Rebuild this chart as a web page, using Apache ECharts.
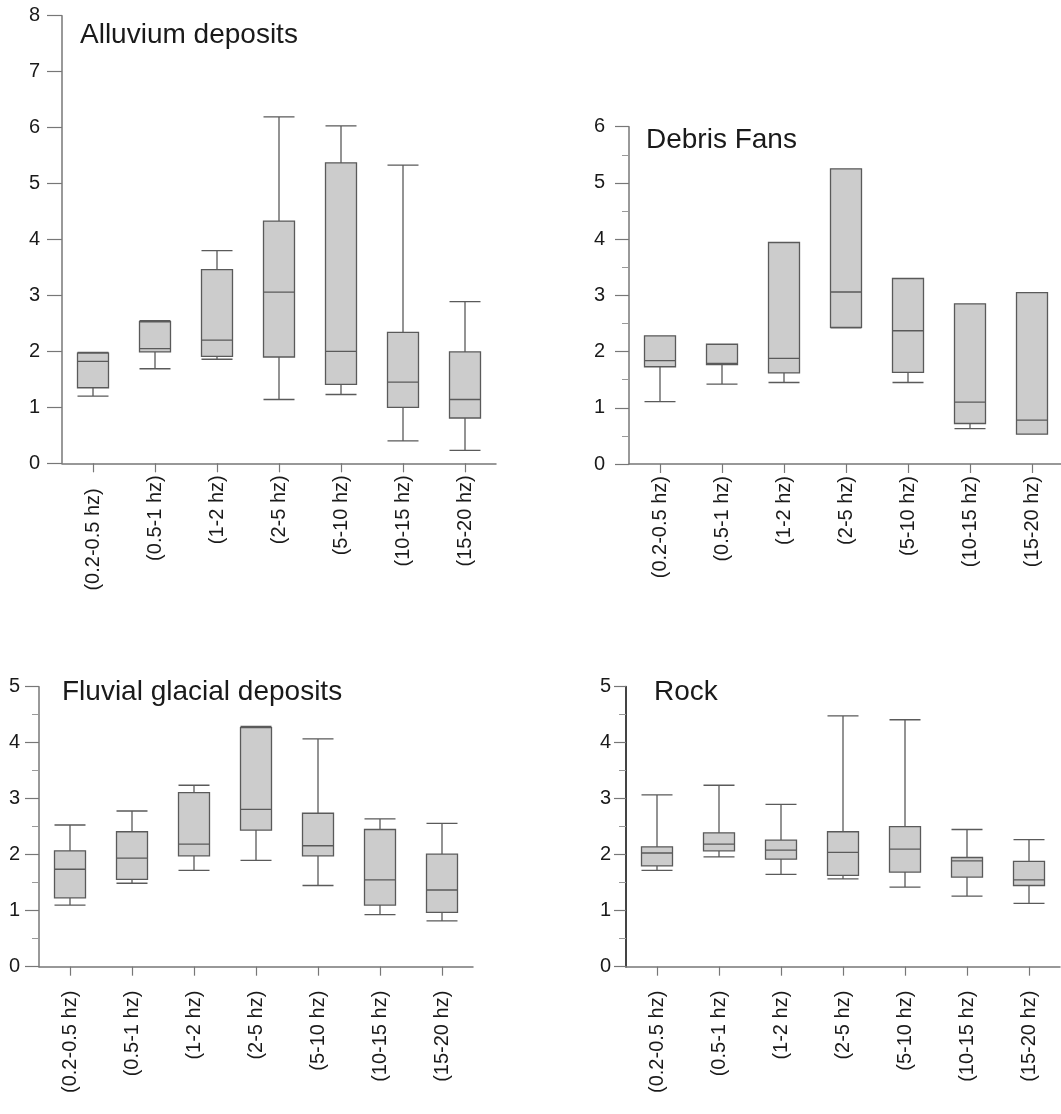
<!DOCTYPE html>
<html>
<head>
<meta charset="utf-8">
<title>Boxplots</title>
<script src="https://cdn.jsdelivr.net/npm/echarts@6/dist/echarts.min.js"></script>
<style>
  html, body { margin: 0; padding: 0; background: #fff; }
  #main { width: 1061px; height: 1114px; }
</style>
</head>
<body>
<div id="main"></div>
<script>
// categories (frequency bands)
var categories = ["(0.2-0.5 hz)", "(0.5-1 hz)", "(1-2 hz)", "(2-5 hz)", "(5-10 hz)", "(10-15 hz)", "(15-20 hz)"];

// [min, Q1, median, Q3, max]
var alluvium = [
  [1.20, 1.35, 1.82, 1.97, 1.98],
  [1.69, 1.99, 2.05, 2.53, 2.55],
  [1.86, 1.91, 2.20, 3.46, 3.80],
  [1.14, 1.90, 3.06, 4.33, 6.19],
  [1.23, 1.41, 2.00, 5.37, 6.03],
  [0.40, 1.00, 1.45, 2.34, 5.33],
  [0.23, 0.81, 1.14, 1.99, 2.89]
];
var debris = [
  [1.11, 1.73, 1.84, 2.28, 2.28],
  [1.42, 1.77, 1.79, 2.13, 2.13],
  [1.45, 1.62, 1.88, 3.94, 3.94],
  [2.42, 2.43, 3.06, 5.25, 5.25],
  [1.45, 1.63, 2.37, 3.30, 3.30],
  [0.63, 0.72, 1.10, 2.85, 2.85],
  [0.53, 0.53, 0.78, 3.05, 3.05]
];
var fluvial = [
  [1.10, 1.23, 1.74, 2.07, 2.53],
  [1.49, 1.56, 1.94, 2.41, 2.78],
  [1.72, 1.98, 2.19, 3.11, 3.24],
  [1.90, 2.44, 2.81, 4.27, 4.29],
  [1.45, 1.98, 2.16, 2.74, 4.07],
  [0.93, 1.10, 1.55, 2.45, 2.64],
  [0.82, 0.97, 1.37, 2.01, 2.56]
];
var rock = [
  [1.72, 1.80, 2.03, 2.14, 3.07],
  [1.96, 2.07, 2.19, 2.39, 3.24],
  [1.65, 1.92, 2.08, 2.26, 2.90],
  [1.57, 1.63, 2.04, 2.41, 4.48],
  [1.42, 1.69, 2.10, 2.50, 4.41],
  [1.26, 1.60, 1.89, 1.95, 2.45],
  [1.13, 1.45, 1.55, 1.88, 2.27]
];

var titles = ["Alluvium deposits", "Debris Fans", "Fluvial glacial deposits", "Rock"];
var yMax = [8, 6, 5, 5];

var font = "Liberation Sans";
var chart = echarts.init(document.getElementById("main"));

// panel layout: grid box, title position, axis details
var panels = [
  { grid: { left: 62, top: 15.7, width: 434, height: 447.6 }, title: [80, 21], tick: 15, minor: false, labMargin: 22, xMargin: 12, data: alluvium, axisColor: "#777", axisWidth: 1.5 },
  { grid: { left: 629, top: 126.7, width: 434, height: 337.3 }, title: [646, 126], tick: 14, minor: true, labMargin: 24, xMargin: 12, data: debris, axisColor: "#777", axisWidth: 1.5 },
  { grid: { left: 39, top: 686.7, width: 434, height: 280 }, title: [62, 678], tick: 14, minor: true, labMargin: 19, xMargin: 24, data: fluvial, axisColor: "#777", axisWidth: 1.5 },
  { grid: { left: 626, top: 686.7, width: 434, height: 280 }, title: [654, 678], tick: 12, minor: true, labMargin: 15, xMargin: 24, data: rock, axisColor: "#444", axisWidth: 2 }
];

var grid = [], xAxis = [], yAxis = [], series = [], title = [];

panels.forEach(function(p, i) {
  var g = Object.assign({ outerBoundsMode: "none", containLabel: false }, p.grid);
  grid.push(g);

  title.push({
    text: titles[i],
    left: p.title[0],
    top: p.title[1],
    padding: 0,
    textStyle: { fontFamily: font, fontSize: 28, fontWeight: "normal", color: "#1a1a1a" }
  });

  // first label in the top-left panel sits a bit lower
  var xData = categories.map(function(c, k) {
    if (i === 0 && k === 0) {
      return { value: c, textStyle: { padding: [0, 13, 0, 0] } };
    }
    return c;
  });

  xAxis.push({
    type: "category",
    gridIndex: i,
    data: xData,
    boundaryGap: true,
    axisLine: { show: true, lineStyle: { color: "#777", width: 1.5 } },
    axisTick: { show: true, alignWithLabel: true, length: 9, lineStyle: { color: "#777", width: 1.2 } },
    splitLine: { show: false },
    axisLabel: {
      rotate: 90,
      margin: p.xMargin,
      interval: 0,
      fontFamily: font,
      fontSize: 20,
      color: "#1a1a1a"
    }
  });

  yAxis.push({
    type: "value",
    gridIndex: i,
    min: 0,
    max: yMax[i],
    interval: 1,
    axisLine: { show: true, lineStyle: { color: p.axisColor, width: p.axisWidth } },
    axisTick: { show: true, length: p.tick, lineStyle: { color: "#777", width: 1.2 } },
    minorTick: { show: p.minor, splitNumber: 2, length: 7, lineStyle: { color: "#999", width: 1 } },
    splitLine: { show: false },
    axisLabel: {
      margin: p.labMargin,
      fontFamily: font,
      fontSize: 20,
      color: "#1a1a1a"
    }
  });

  series.push({
    type: "boxplot",
    xAxisIndex: i,
    yAxisIndex: i,
    boxWidth: [31, 31],
    itemStyle: {
      color: "#cccccc",
      borderColor: "#5a5a5a",
      borderWidth: 1.3
    },
    data: p.data
  });
});

var option = {
  animation: false,
  backgroundColor: "#fff",
  title: title,
  grid: grid,
  xAxis: xAxis,
  yAxis: yAxis,
  series: series
};
chart.setOption(option);
</script>
</body>
</html>
